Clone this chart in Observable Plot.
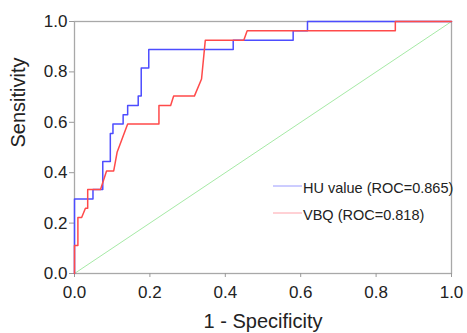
<!DOCTYPE html>
<html><head><meta charset="utf-8">
<script src="https://cdn.jsdelivr.net/npm/d3@7"></script>
<script src="https://cdn.jsdelivr.net/npm/@observablehq/plot@0.6"></script>
<style>body{margin:0;background:#fff}</style>
</head><body><div id="chart"></div>
<script>
// HU value ROC curve vertices (1 - specificity, sensitivity)
const huX = [0, 0, 0.049, 0.049, 0.075, 0.075, 0.095, 0.095, 0.102, 0.102, 0.129, 0.129, 0.141, 0.141, 0.169, 0.169, 0.177, 0.177, 0.197, 0.197, 0.421, 0.421, 0.58, 0.58, 0.618, 0.618, 1.0];
const huY = [0, 0.296, 0.296, 0.333, 0.333, 0.444, 0.444, 0.556, 0.556, 0.593, 0.593, 0.630, 0.630, 0.667, 0.667, 0.704, 0.704, 0.815, 0.815, 0.889, 0.889, 0.926, 0.926, 0.963, 0.963, 1.0, 1.0];
// VBQ ROC curve vertices
const vbqX = [0, 0, 0.009, 0.009, 0.019, 0.029, 0.035, 0.035, 0.069, 0.085, 0.104, 0.113, 0.141, 0.224, 0.224, 0.255, 0.263, 0.318, 0.337, 0.347, 0.449, 0.458, 0.851, 0.851, 1.0];
const vbqY = [0, 0.111, 0.111, 0.222, 0.222, 0.259, 0.259, 0.333, 0.333, 0.407, 0.407, 0.481, 0.593, 0.593, 0.667, 0.667, 0.704, 0.704, 0.772, 0.926, 0.926, 0.963, 0.963, 1.0, 1.0];
// reference diagonal
const refX = [0, 1];
const refY = [0, 1];
const xTicks = [0, 0.2, 0.4, 0.6, 0.8, 1.0];
const yTicks = [0, 0.2, 0.4, 0.6, 0.8, 1.0];
const legendLabels = ["HU value (ROC=0.865)", "VBQ (ROC=0.818)"];
const legendColors = ["#9a9aff", "#ffa3ab"];
const xTitle = "1 - Specificity";
const yTitle = "Sensitivity";

const hu = huX.map((x, i) => ({x, y: huY[i]}));
const vbq = vbqX.map((x, i) => ({x, y: vbqY[i]}));
const ref = refX.map((x, i) => ({x, y: refY[i]}));

const plot = Plot.plot({
  width: 467, height: 333,
  marginLeft: 74, marginRight: 16, marginTop: 21, marginBottom: 60,
  style: {fontFamily: "'Liberation Sans', Arial, sans-serif", background: "#fff", color: "#222"},
  x: {domain: [0, 1]},
  y: {domain: [0, 1]},
  marks: [
    Plot.line(ref, {x: "x", y: "y", stroke: "#a6eaa6", strokeWidth: 1}),
    Plot.frame({stroke: "#a8a8a8", strokeWidth: 1.3}),
    Plot.axisX({ticks: xTicks, tickFormat: d3.format(".1f"), tickSize: 4, tickPadding: 8, fontSize: 17, stroke: "#999", fill: "#222", label: null}),
    Plot.axisY({ticks: yTicks, tickFormat: d3.format(".1f"), tickSize: 5, tickPadding: 2, fontSize: 17, stroke: "#999", fill: "#222", label: null}),
    Plot.line(hu, {x: "x", y: "y", stroke: "#4d4dff", strokeWidth: 1.5}),
    Plot.line(vbq, {x: "x", y: "y", stroke: "#ff4a4a", strokeWidth: 1.5}),
    Plot.text([xTitle], {frameAnchor: "bottom", dy: 54, fontSize: 20, fill: "#222"}),
    Plot.text([yTitle], {frameAnchor: "left", dx: -56, rotate: -90, fontSize: 20, fill: "#222"})
  ]
});

// legend inside plot area
const svg = d3.select(plot);
const lg = svg.append("g").style("text-anchor", "start");
legendLabels.forEach((lab, i) => {
  const yy = 186 + i * 27;
  lg.append("path").attr("d", `M273,${yy}H302`)
    .style("stroke", legendColors[i]).style("stroke-width", "1px").style("fill", "none");
  lg.append("text").attr("x", 303).attr("y", yy + 6.5).text(lab)
    .style("font-size", "14.5px").style("fill", "#222").style("text-anchor", "start")
    .style("font-family", "'Liberation Sans', Arial, sans-serif");
});

document.getElementById("chart").append(plot);
</script>
</body></html>
